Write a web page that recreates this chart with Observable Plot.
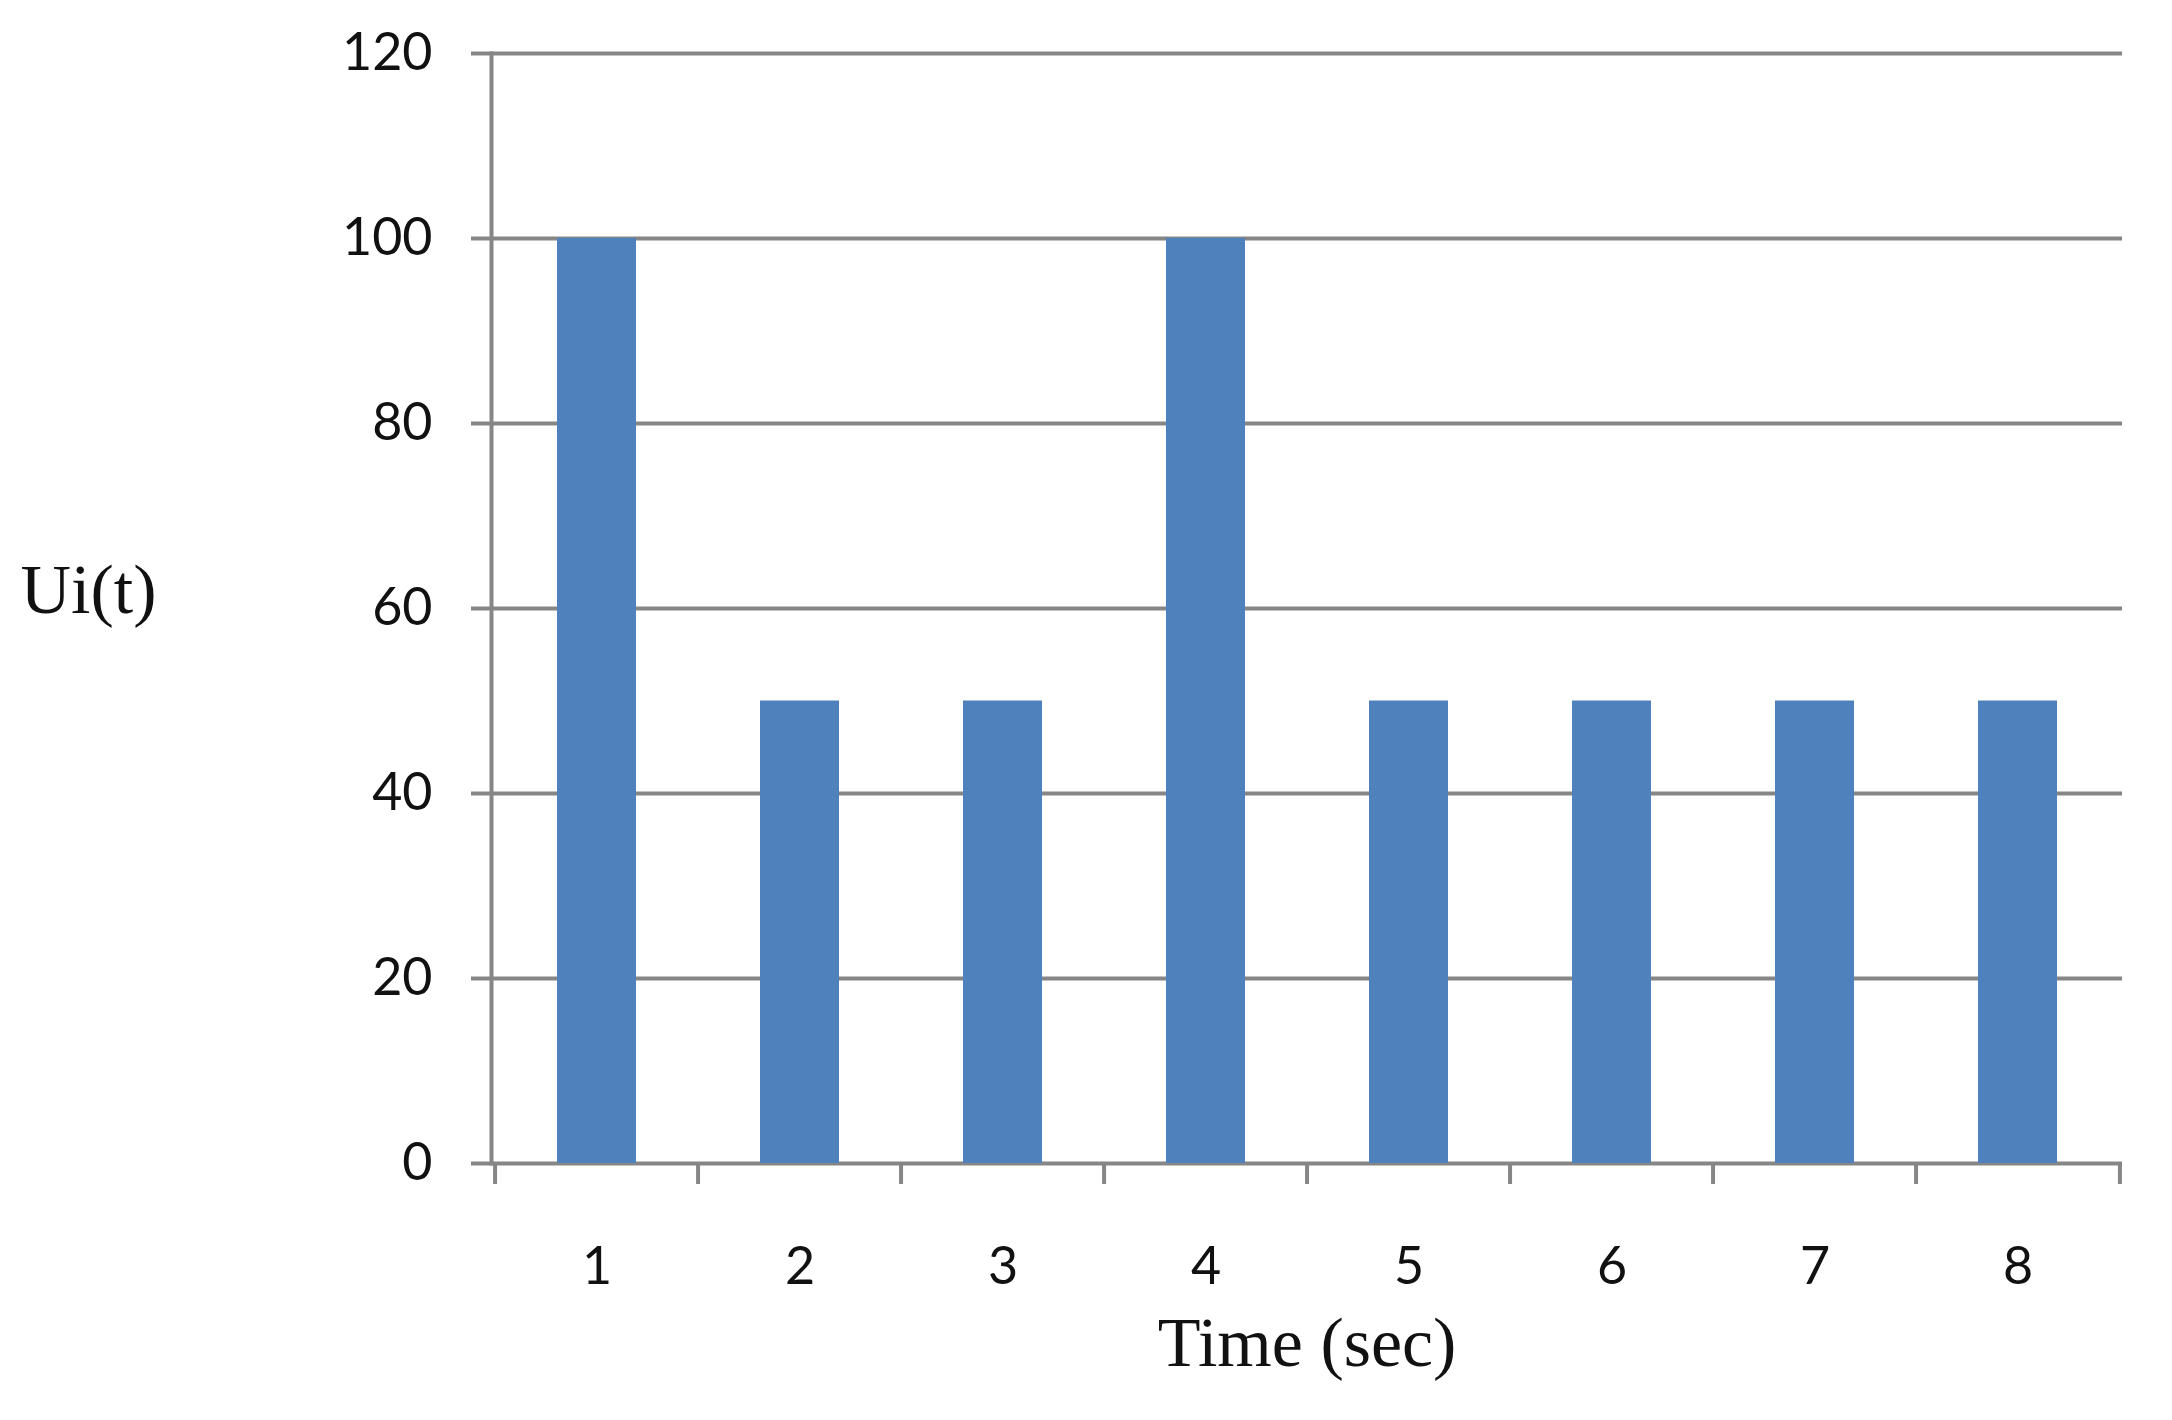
<!DOCTYPE html>
<html>
<head>
<meta charset="utf-8">
<script src="https://cdn.jsdelivr.net/npm/d3@7"></script>
<script src="https://cdn.jsdelivr.net/npm/@observablehq/plot@0.6"></script>
<style>
  html, body { margin: 0; padding: 0; background: #ffffff; }
  #chart svg { display: block; }
</style>
</head>
<body>
<div id="chart"></div>
<script>
// Data
const times = ["1", "2", "3", "4", "5", "6", "7", "8"];
const values = [100, 50, 50, 100, 50, 50, 50, 50];
const yTicks = [0, 20, 40, 60, 80, 100, 120];
const xTitle = "Time (sec)";
const yTitle = "Ui(t)";

const data = times.map((t, i) => ({ t, v: values[i] }));

const W = 2172, H = 1420;
const mL = 491, mR = 50, mT = 53, mB = 257;
const bw = (W - mL - mR) / times.length;
const gridColor = "#868686";
const gridW = 4;

const chart = Plot.plot({
  width: W,
  height: H,
  marginLeft: mL,
  marginRight: mR,
  marginTop: mT,
  marginBottom: mB,
  style: { fontFamily: "Lato, 'Open Sans', sans-serif", fontSize: "52px", color: "#111", background: "#fff" },
  x: { type: "band", domain: times, padding: 0 },
  y: { domain: [0, 120] },
  marks: [
    Plot.ruleY(yTicks, { stroke: gridColor, strokeWidth: gridW }),
    Plot.barY(data, { x: "t", y: "v", fill: "#4F81BD", insetLeft: 62, insetRight: 62 }),
    Plot.frame({ anchor: "left", stroke: gridColor, strokeWidth: gridW }),
    Plot.axisY({ ticks: yTicks, tickSize: 20, tickPadding: 39, stroke: gridColor, strokeWidth: gridW, strokeOpacity: 1, label: null, fill: "#111" }),
    // boundary ticks below the x axis
    Plot.axisX({ ticks: times, tickSize: 21, tickFormat: () => "", dx: -bw / 2, stroke: gridColor, strokeWidth: gridW, strokeOpacity: 1, label: null }),
    Plot.axisX({ ticks: [times[times.length - 1]], tickSize: 21, tickFormat: () => "", dx: bw / 2, stroke: gridColor, strokeWidth: gridW, strokeOpacity: 1, label: null }),
    // category labels
    Plot.axisX({ ticks: times, tickSize: 0, tickPadding: 84, label: null, fill: "#111" }),
    Plot.text([yTitle], { frameAnchor: "left", dx: -403, dy: -18, text: d => d, fontFamily: "'Liberation Serif', 'Times New Roman', serif", fontSize: 70, fill: "#111", textAnchor: "middle" }),
    Plot.text([xTitle], { frameAnchor: "bottom", dy: 202, text: d => d, fontFamily: "'Liberation Serif', 'Times New Roman', serif", fontSize: 70, fill: "#111", textAnchor: "middle" })
  ]
});

document.getElementById("chart").appendChild(chart);
</script>
</body>
</html>
